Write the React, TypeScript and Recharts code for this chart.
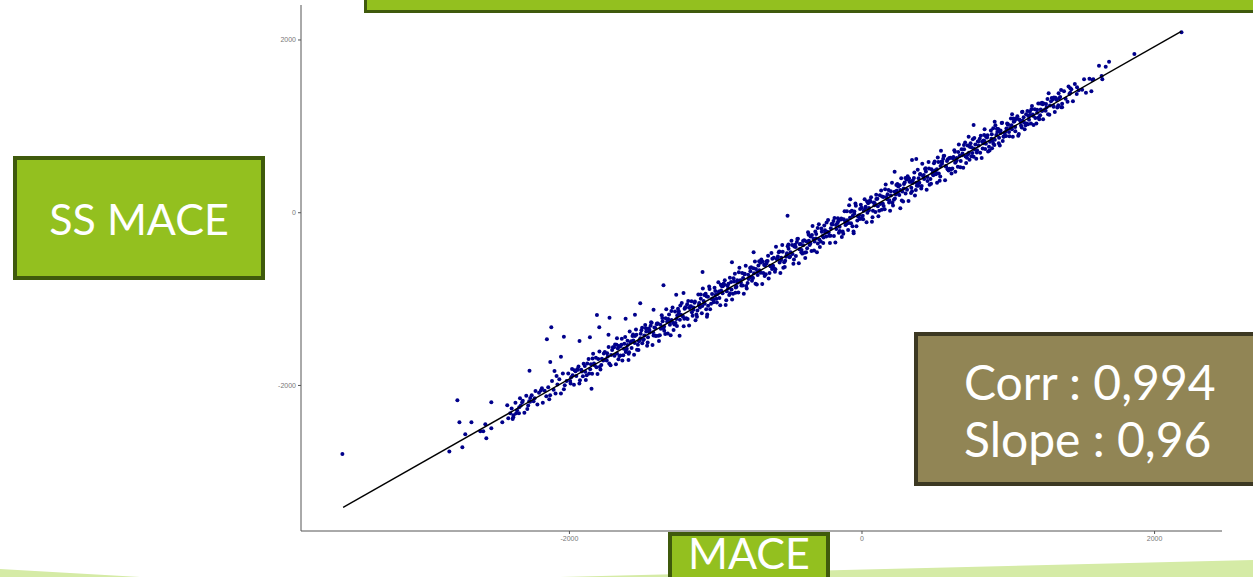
import React from 'react';
import { ScatterChart, Scatter, XAxis, YAxis } from 'recharts';

// axis ticks
const xTicks = [-2000, 0, 2000];
const yTicks = [-2000, 0, 2000];

// regression line end points (MACE vs SS MACE)
const fitLine: [number, number][] = [[-3547, -3412], [2183, 2100]];

// isolated points, low end
const pointsLow: [number, number][] = [
  [-3552, -2794], [-2821, -2766], [-2766, -2170], [-2752, -2425], [-2670, -2425], [-2732, -2714],
  [-2712, -2564], [-2609, -2529], [-2589, -2529], [-2568, -2610], [-2575, -2448], [-2534, -2494],
  [-2534, -2193], [-2459, -2425], [-2418, -2379], [-2425, -2228], [-2404, -2321], [-2384, -2367],
  [-2364, -2321], [-2323, -2193], [-2343, -2251], [-2275, -2182], [-2268, -2145],
];

// scattered points around the middle of the cloud
const pointsMid: [number, number][] = [
  [-2273, -1829], [-2154, -1466], [-2124, -1327], [-2038, -1435], [-1931, -1485], [-1812, -1184],
  [-1796, -1327], [-1726, -1216], [-1860, -1443], [-1616, -1227], [-1552, -1181], [-1516, -1049],
  [-1425, -1123], [-1357, -840], [-1270, -949], [-1220, -930], [-1090, -686], [-889, -574],
  [-741, -458], [-509, -35], [-1849, -2037], [-2102, -1833], [-2058, -1667], [-2131, -1728],
  [-1733, -1412], [-1675, -1454], [-1247, -1424], [-1596, -1705], [-1060, -1204], [-80, 155],
  [-57, -238], [262, 51],
];

// scattered points, high end
const pointsHigh: [number, number][] = [
  [2184, 2090], [1862, 1837], [1689, 1748], [1620, 1702], [1666, 1690], [1575, 1536], [1643, 1544],
  [1638, 1582], [1470, 1452], [1424, 1440], [1424, 1389], [1361, 1420], [1344, 1382], [1276, 1382],
  [1368, 1220], [1310, 1227], [1219, 1266], [1231, 1273], [1173, 1015], [1238, 1081], [1197, 1158],
  [1094, 1166], [1026, 1139], [968, 880], [907, 1053], [838, 965], [763, 1015], [729, 880],
  [831, 803], [889, 746], [763, 648], [540, 718], [342, 610], [371, 622], [223, 475], [513, 347],
  [638, 475],
];

// main band of points
const bandOuter: [number, number][] = [
  [-2395, -2268], [-2382, -2346], [-2369, -2201], [-2358, -2287], [-2388, -2387],
  [-2345, -2322], [-2332, -2232], [-2319, -2177], [-2308, -2317], [-2338, -2147],
  [-2295, -2118], [-2282, -2232], [-2269, -2189], [-2258, -2113], [-2288, -2273],
  [-2245, -2184], [-2232, -2064], [-2219, -2219], [-2208, -2083], [-2238, -2147],
  [-2195, -2057], [-2182, -2201], [-2169, -2062], [-2158, -2124], [-2188, -2032],
  [-2145, -2021], [-2132, -2114], [-2119, -1947], [-2108, -2049], [-2138, -2161],
  [-2095, -2092], [-2082, -1989], [-2069, -1927], [-2058, -2092], [-2088, -1889],
  [-2045, -1862], [-2032, -1997], [-2019, -1949], [-2008, -1862], [-2038, -2044],
  [-1995, -1947], [-1982, -1809], [-1969, -1992], [-1958, -1835], [-1988, -1905],
  [-1945, -1808], [-1932, -1978], [-1919, -1818], [-1908, -1892], [-1938, -1780],
  [-1895, -1775], [-1882, -1883], [-1869, -1694], [-1858, -1812], [-1888, -1936],
  [-1845, -1863], [-1832, -1747], [-1819, -1678], [-1808, -1868], [-1838, -1632],
  [-1795, -1607], [-1782, -1763], [-1769, -1710], [-1758, -1612], [-1788, -1816],
  [-1745, -1711], [-1732, -1555], [-1719, -1766], [-1708, -1588], [-1738, -1664],
  [-1695, -1558], [-1682, -1754], [-1669, -1573], [-1658, -1659], [-1688, -1527],
  [-1645, -1528], [-1632, -1651], [-1619, -1440], [-1608, -1574], [-1638, -1710],
  [-1595, -1633], [-1582, -1504], [-1569, -1428], [-1558, -1643], [-1588, -1374],
  [-1545, -1351], [-1532, -1528], [-1519, -1470], [-1508, -1361], [-1538, -1587],
  [-1495, -1474], [-1482, -1300], [-1469, -1539], [-1458, -1340], [-1488, -1422],
  [-1445, -1309], [-1432, -1531], [-1419, -1329], [-1408, -1427], [-1438, -1275],
  [-1395, -1282], [-1382, -1420], [-1369, -1187], [-1358, -1337], [-1388, -1485],
  [-1345, -1404], [-1332, -1262], [-1319, -1179], [-1308, -1419], [-1338, -1117],
  [-1295, -1096], [-1282, -1294], [-1269, -1231], [-1258, -1111], [-1288, -1359],
  [-1245, -1238], [-1232, -1046], [-1219, -1313], [-1208, -1093], [-1238, -1181],
  [-1195, -1059], [-1182, -1307], [-1169, -1084], [-1158, -1194], [-1188, -1022],
  [-1145, -1041], [-1132, -1179], [-1119, -946], [-1108, -1096], [-1138, -1244],
  [-1095, -1163], [-1082, -1021], [-1069, -938], [-1058, -1178], [-1088, -876],
  [-1045, -855], [-1032, -1053], [-1019, -990], [-1008, -870], [-1038, -1118],
  [-995, -997], [-982, -805], [-969, -1072], [-958, -852], [-988, -940],
  [-945, -819], [-932, -1067], [-919, -844], [-908, -954], [-938, -782],
  [-895, -801], [-882, -939], [-869, -706], [-858, -856], [-888, -1004],
  [-845, -923], [-832, -781], [-819, -698], [-808, -938], [-838, -636],
  [-795, -615], [-782, -813], [-769, -750], [-758, -630], [-788, -878],
  [-745, -757], [-732, -565], [-719, -832], [-708, -612], [-738, -700],
  [-695, -578], [-682, -826], [-669, -603], [-658, -713], [-688, -541],
  [-645, -560], [-632, -698], [-619, -465], [-608, -615], [-638, -763],
  [-595, -682], [-582, -540], [-569, -457], [-558, -697], [-588, -395],
  [-545, -374], [-532, -572], [-519, -509], [-508, -389], [-538, -637],
  [-495, -516], [-482, -324], [-469, -591], [-458, -371], [-488, -459],
  [-445, -338], [-432, -586], [-419, -363], [-408, -473], [-438, -301],
  [-395, -320], [-382, -458], [-369, -225], [-358, -375], [-388, -523],
  [-345, -442], [-332, -300], [-319, -217], [-308, -457], [-338, -155],
  [-295, -134], [-282, -332], [-269, -269], [-258, -149], [-288, -397],
  [-245, -276], [-232, -84], [-219, -351], [-208, -131], [-238, -219],
  [-195, -97], [-182, -345], [-169, -122], [-158, -232], [-188, -60],
  [-145, -79], [-132, -217], [-119, 16], [-108, -134], [-138, -282],
  [-95, -201], [-82, -59], [-69, 24], [-58, -216], [-88, 86],
  [-45, 107], [-32, -91], [-19, -28], [-8, 92], [-38, -156],
  [5, -35], [18, 157], [31, -110], [42, 110], [12, 22],
  [55, 143], [68, -105], [81, 118], [92, 8], [62, 180],
  [105, 161], [118, 23], [131, 256], [142, 106], [112, -42],
  [155, 39], [168, 181], [181, 264], [192, 24], [162, 326],
  [205, 347], [218, 149], [231, 212], [242, 332], [212, 84],
  [255, 206], [268, 398], [281, 131], [292, 351], [262, 263],
  [305, 384], [318, 136], [331, 359], [342, 249], [312, 421],
  [355, 402], [368, 264], [381, 497], [392, 347], [362, 199],
  [405, 280], [418, 422], [431, 505], [442, 265], [412, 567],
  [455, 588], [468, 390], [481, 453], [492, 573], [462, 325],
  [505, 446], [518, 638], [531, 371], [542, 591], [512, 503],
  [555, 624], [568, 376], [581, 599], [592, 489], [562, 661],
  [605, 636], [618, 513], [631, 724], [642, 590], [612, 454],
  [655, 531], [668, 660], [681, 736], [692, 521], [662, 790],
  [705, 813], [718, 636], [731, 694], [742, 803], [712, 577],
  [755, 691], [768, 865], [781, 626], [792, 825], [762, 743],
  [805, 856], [818, 634], [831, 836], [842, 738], [812, 890],
  [855, 871], [868, 763], [881, 952], [892, 834], [862, 710],
  [905, 783], [918, 899], [931, 968], [942, 778], [912, 1014],
  [955, 1039], [968, 883], [981, 936], [992, 1034], [962, 830],
  [1005, 935], [1018, 1091], [1031, 880], [1042, 1058], [1012, 982],
  [1055, 1087], [1068, 891], [1081, 1072], [1092, 986], [1062, 1118],
  [1105, 1105], [1118, 1012], [1131, 1179], [1142, 1077], [1112, 965],
  [1155, 1034], [1168, 1137], [1181, 1199], [1192, 1034], [1162, 1237],
  [1205, 1264], [1218, 1129], [1231, 1177], [1242, 1264], [1212, 1082],
  [1255, 1180], [1268, 1318], [1281, 1135], [1292, 1292], [1262, 1222],
  [1305, 1310], [1318, 1166], [1331, 1305], [1342, 1243], [1312, 1335],
  [1355, 1340], [1368, 1262], [1381, 1407], [1392, 1321], [1362, 1221],
  [1405, 1286], [1418, 1376], [1431, 1431], [1442, 1291], [1412, 1461],
  [1455, 1490], [1468, 1376], [1481, 1419],
  [1505, 1424], [1518, 1544], [1531, 1389],
  [1555, 1550], [1568, 1406], [1581, 1545],
];

// tighter points close to the line, densest part
const bandInner: [number, number][] = [
  [-1675, -1631], [-1663, -1544], [-1652, -1654], [-1625, -1518], [-1613, -1586], [-1602, -1531],
  [-1575, -1565], [-1563, -1478], [-1552, -1428], [-1525, -1487], [-1513, -1400], [-1502, -1510],
  [-1475, -1374], [-1463, -1442], [-1452, -1387], [-1425, -1421], [-1413, -1334], [-1402, -1284],
  [-1375, -1343], [-1363, -1256], [-1352, -1366], [-1325, -1230], [-1313, -1298], [-1302, -1243],
  [-1275, -1277], [-1263, -1190], [-1252, -1140], [-1225, -1199], [-1213, -1112], [-1202, -1222],
  [-1175, -1085], [-1163, -1153], [-1152, -1098], [-1125, -1132], [-1113, -1045], [-1102, -995],
  [-1075, -1054], [-1063, -967], [-1052, -1077], [-1025, -941], [-1013, -1009], [-1002, -954],
  [-975, -988], [-963, -901], [-952, -851], [-925, -910], [-913, -823], [-902, -933],
  [-875, -797], [-863, -865], [-852, -810], [-825, -844], [-813, -757], [-802, -707],
  [-775, -766], [-763, -679], [-752, -789], [-725, -653], [-713, -721], [-702, -666],
  [-675, -699], [-663, -612], [-652, -562], [-625, -621], [-613, -534], [-602, -644],
  [-575, -508], [-563, -576], [-552, -521], [-525, -555], [-513, -468], [-502, -418],
  [-475, -477], [-463, -390], [-452, -500], [-425, -364], [-413, -432], [-402, -377],
  [-375, -411], [-363, -324], [-352, -274], [-325, -333], [-313, -246], [-302, -356],
  [-275, -220], [-263, -288], [-252, -233], [-225, -267], [-213, -180], [-202, -130],
  [-175, -188], [-163, -101], [-152, -211], [-125, -75], [-113, -143], [-102, -88],
  [-75, -122], [-63, -35], [-52, 15], [-25, -44], [-13, 43], [-2, -67],
  [25, 69], [37, 1], [48, 56], [75, 22], [87, 109], [98, 159],
  [125, 100], [137, 187], [148, 77], [175, 213], [187, 145], [198, 200],
  [225, 166], [237, 253], [248, 303], [275, 245], [287, 332], [298, 222],
  [325, 358], [337, 290], [348, 345], [375, 311], [387, 398], [398, 448],
  [425, 389], [437, 476], [448, 366], [475, 502], [487, 434], [498, 489],
  [525, 455], [537, 542], [548, 592], [575, 533], [587, 620], [598, 510],
  [625, 646], [637, 578], [648, 633], [675, 599], [687, 686], [698, 736],
  [725, 677], [737, 764], [748, 654], [775, 791], [787, 723], [798, 778],
  [825, 744], [837, 831], [848, 881], [875, 822], [887, 909], [898, 799],
  [925, 935], [937, 867], [948, 922], [975, 888], [987, 975], [998, 1025],
  [1025, 966], [1037, 1053], [1048, 943], [1075, 1079], [1087, 1011], [1098, 1066],
  [1125, 1032], [1137, 1119], [1148, 1169],
];

// more points filling the band
const bandFill: [number, number][] = [
  [-1992, -1976], [-1978, -1882], [-1965, -1823], [-1953, -1890],
  [-1942, -1819], [-1928, -1939], [-1915, -1838], [-1903, -1750],
  [-1892, -1841], [-1878, -1747], [-1865, -1861], [-1853, -1755],
  [-1842, -1688], [-1828, -1766], [-1815, -1788], [-1803, -1693],
  [-1792, -1784], [-1778, -1690], [-1765, -1631], [-1753, -1698],
  [-1742, -1627], [-1728, -1747], [-1715, -1646], [-1703, -1558],
  [-1692, -1657], [-1678, -1529], [-1665, -1696], [-1653, -1550],
  [-1642, -1459], [-1628, -1576], [-1615, -1613], [-1603, -1482],
  [-1592, -1616], [-1578, -1488], [-1565, -1410], [-1553, -1509],
  [-1542, -1413], [-1528, -1590], [-1515, -1452], [-1503, -1331],
  [-1492, -1465], [-1478, -1337], [-1465, -1504], [-1453, -1358],
  [-1442, -1267], [-1428, -1384], [-1415, -1421], [-1403, -1290],
  [-1392, -1424], [-1378, -1296], [-1365, -1218], [-1353, -1317],
  [-1342, -1221], [-1328, -1398], [-1315, -1260], [-1303, -1139],
  [-1292, -1273], [-1278, -1145], [-1265, -1312], [-1253, -1166],
  [-1242, -1075], [-1228, -1192], [-1215, -1229], [-1203, -1098],
  [-1192, -1231], [-1178, -1103], [-1165, -1025], [-1153, -1124],
  [-1142, -1028], [-1128, -1205], [-1115, -1067], [-1103, -946],
  [-1092, -1080], [-1078, -952], [-1065, -1119], [-1053, -973],
  [-1042, -882], [-1028, -999], [-1015, -1036], [-1003, -905],
  [-992, -1039], [-978, -911], [-965, -833], [-953, -932],
  [-942, -836], [-928, -1013], [-915, -875], [-903, -754],
  [-892, -888], [-878, -760], [-865, -927], [-853, -781],
  [-842, -690], [-828, -807], [-815, -844], [-803, -713],
  [-792, -847], [-778, -719], [-765, -641], [-753, -740],
  [-742, -644], [-728, -821], [-715, -683], [-703, -562],
  [-692, -695], [-678, -567], [-665, -734], [-653, -588],
  [-642, -497], [-628, -614], [-615, -651], [-603, -520],
  [-592, -654], [-578, -526], [-565, -448], [-553, -547],
  [-542, -451], [-528, -628], [-515, -490], [-503, -369],
  [-492, -503], [-478, -375], [-465, -542], [-453, -396],
  [-442, -305], [-428, -422], [-415, -459], [-403, -328],
  [-392, -462], [-378, -334], [-365, -256], [-353, -355],
  [-342, -259], [-328, -436], [-315, -298], [-303, -177],
  [-292, -311], [-278, -183], [-265, -350], [-253, -204],
  [-242, -113], [-228, -230], [-215, -267], [-203, -136],
  [-192, -269], [-178, -141], [-165, -63], [-153, -162],
  [-142, -66], [-128, -243], [-115, -105], [-103, 16],
  [-92, -118], [-78, 10], [-65, -157], [-53, -11],
  [-42, 80], [-28, -37], [-15, -74], [-3, 57],
  [8, -77], [22, 51], [35, 129], [47, 30],
  [58, 126], [72, -51], [85, 87], [97, 208],
  [108, 74], [122, 202], [135, 35], [147, 181],
  [158, 272], [172, 155], [185, 118], [197, 249],
  [208, 115], [222, 243], [235, 321], [247, 222],
  [258, 319], [272, 142], [285, 280], [297, 401],
  [308, 267], [322, 395], [335, 228], [347, 374],
  [358, 465], [372, 348], [385, 311], [397, 442],
  [408, 308], [422, 436], [435, 514], [447, 415],
  [458, 511], [472, 334], [485, 472], [497, 593],
  [508, 459], [522, 587], [535, 420], [547, 566],
  [558, 657], [572, 540], [585, 503], [597, 634],
  [608, 500], [622, 628], [635, 706], [647, 607],
  [658, 703], [672, 526], [685, 664], [697, 785],
  [708, 651], [722, 779], [735, 612], [747, 758],
  [758, 850], [772, 733], [785, 696], [797, 827],
  [808, 693], [822, 821], [835, 899], [847, 800],
  [858, 896], [872, 719], [885, 857], [897, 978],
  [908, 844], [922, 972], [935, 805], [947, 951],
  [958, 1042], [972, 925], [985, 888], [997, 1019],
  [1008, 885], [1022, 1013], [1035, 1091], [1047, 992],
  [1058, 1088], [1072, 911], [1085, 1049], [1097, 1170],
  [1108, 1045], [1122, 1139], [1135, 1025], [1147, 1131],
  [1158, 1198], [1172, 1120], [1185, 1098], [1197, 1193],
  [1208, 1102], [1222, 1196], [1235, 1255], [1247, 1188],
  [1258, 1260], [1272, 1140], [1285, 1241], [1297, 1329],
  [1308, 1238], [1322, 1332], [1335, 1218], [1347, 1324],
];

const toXY = (arr: [number, number][]) => arr.map(([x, y]) => ({ x, y }));
const allPoints = toXY([...bandOuter, ...bandInner, ...bandFill, ...pointsLow, ...pointsMid, ...pointsHigh]);
const fitData = toXY(fitLine);

const PointDot = (props: any) => <circle cx={props.cx} cy={props.cy} r={2} fill="#00008b" />;
const NoDot = () => <g />;

const tickStyle = { fontSize: 7, fill: '#777', fontFamily: 'Liberation Sans, Arial, sans-serif' };

const boxText: React.CSSProperties = {
  position: 'absolute',
  color: '#fff',
  fontFamily: 'Lato, sans-serif',
  boxSizing: 'border-box',
  display: 'flex',
  alignItems: 'center',
  justifyContent: 'center',
};

export default function App() {
  return (
    <div style={{ position: 'absolute', left: 0, top: 0, width: 1253, height: 577, overflow: 'hidden', background: '#fff' }}>
      {/* light green swoosh at the bottom */}
      <svg width={1253} height={577} style={{ position: 'absolute', left: 0, top: 0 }}>
        <polygon points="0,569 140,577 0,577" fill="#d5eba6" />
        <polygon points="560,577 1253,560 1253,577" fill="#d5eba6" />
      </svg>

      <div style={{ position: 'absolute', left: 0, top: 0 }}>
        <ScatterChart width={1253} height={577} margin={{ top: 5, right: 31, bottom: 16, left: 261 }}>
          <XAxis
            type="number"
            dataKey="x"
            domain={[-3835, 2461]}
            ticks={xTicks}
            height={30}
            tickSize={3}
            tick={tickStyle}
            axisLine={{ stroke: '#555' }}
            tickLine={{ stroke: '#555' }}
          />
          <YAxis
            type="number"
            dataKey="y"
            domain={[-3685, 2405]}
            ticks={yTicks}
            width={40}
            tickSize={3}
            tick={tickStyle}
            axisLine={{ stroke: '#555' }}
            tickLine={{ stroke: '#555' }}
          />
          <Scatter data={allPoints} shape={PointDot} isAnimationActive={false} />
          <Scatter
            data={fitData}
            shape={NoDot}
            line={{ stroke: '#000', strokeWidth: 1.4 }}
            isAnimationActive={false}
          />
        </ScatterChart>
      </div>

      {/* top title box, cut off by the frame */}
      <div style={{ position: 'absolute', left: 364, top: -30, width: 920, height: 43, background: '#93c01f', border: '3px solid #3f5a0c', boxSizing: 'border-box' }} />

      <div style={{ ...boxText, left: 13, top: 156, width: 252, height: 124, background: '#93c01f', border: '4px solid #3f5a0c', fontSize: 43 }}>
        SS MACE
      </div>

      <div style={{ ...boxText, left: 668, top: 532, width: 162, height: 70, background: '#93c01f', border: '4px solid #3f5a0c', fontSize: 43, lineHeight: 1, alignItems: 'flex-start' }}>
        <div style={{ marginTop: -5 }}>MACE</div>
      </div>

      <div style={{ ...boxText, left: 914, top: 332, width: 360, height: 154, background: '#918555', border: '4px solid #3c3822', fontSize: 48, lineHeight: '57px', flexDirection: 'column', alignItems: 'flex-start', paddingLeft: 46, paddingTop: 2 }}>
        <div>Corr : 0,994</div>
        <div>Slope : 0,96</div>
      </div>
    </div>
  );
}
